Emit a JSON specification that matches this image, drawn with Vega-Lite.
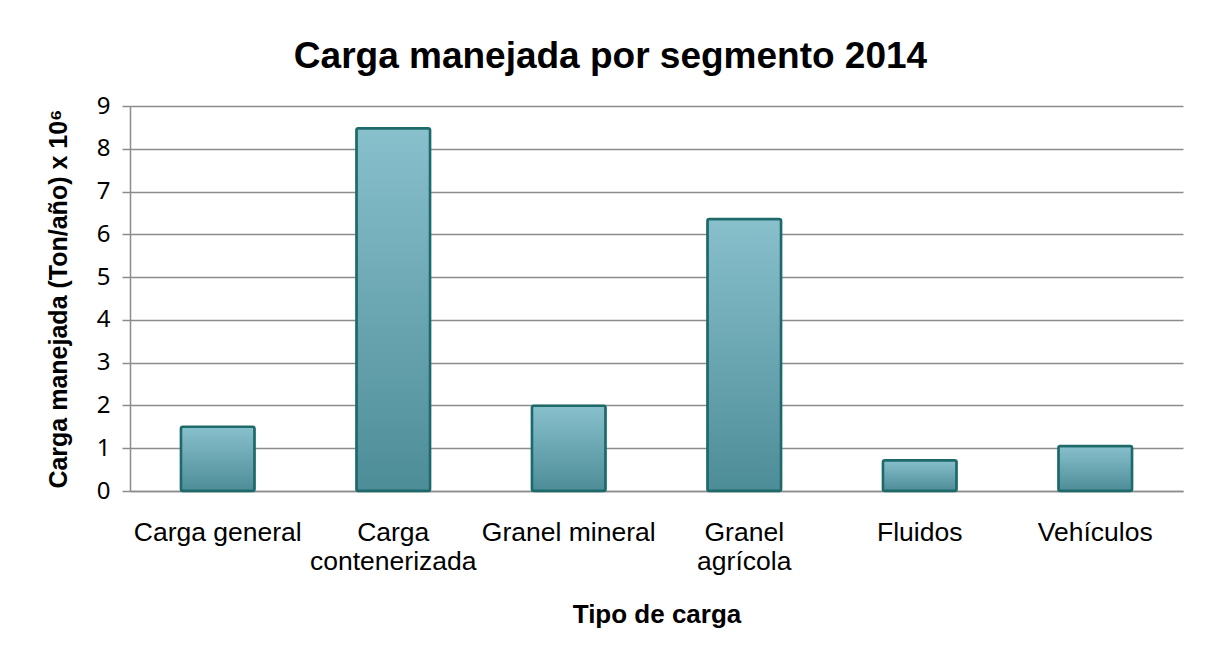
{
  "$schema": "https://vega.github.io/schema/vega-lite/v6.json",
  "width": 1053,
  "height": 385,
  "autosize": {"type": "none"},
  "padding": {"left": 130, "top": 106, "right": 28, "bottom": 165},
  "background": "white",
  "title": {
    "text": "Carga manejada por segmento 2014",
    "font": "Liberation Sans",
    "fontSize": 37,
    "fontWeight": "bold",
    "color": "#000000",
    "anchor": "middle",
    "frame": "group",
    "dx": -46,
    "baseline": "alphabetic",
    "offset": -11
  },
  "data": {
    "values": [
      {"tipo": "Carga general", "carga": 1.5},
      {"tipo": "Carga contenerizada", "carga": 8.48},
      {"tipo": "Granel mineral", "carga": 1.99},
      {"tipo": "Granel agrícola", "carga": 6.36},
      {"tipo": "Fluidos", "carga": 0.72},
      {"tipo": "Vehículos", "carga": 1.05}
    ]
  },
  "mark": {
    "type": "bar",
    "cornerRadius": 2,
    "stroke": "#1e6a6a",
    "strokeWidth": 2.5,
    "color": {
      "gradient": "linear",
      "x1": 0, "y1": 0, "x2": 0, "y2": 1,
      "stops": [
        {"offset": 0, "color": "#88c0cc"},
        {"offset": 1, "color": "#4d8d98"}
      ]
    }
  },
  "encoding": {
    "x": {
      "field": "tipo",
      "type": "nominal",
      "sort": null,
      "scale": {"paddingInner": 0.58, "paddingOuter": 0.29},
      "axis": {
        "title": "Tipo de carga",
        "titleFont": "Liberation Sans",
        "titleFontSize": 26,
        "titleFontWeight": "bold",
        "titleColor": "#000000",
        "titlePadding": 27,
        "labelFont": "Liberation Sans",
        "labelFontSize": 26.5,
        "labelColor": "#000000",
        "labelAngle": 0,
        "labelPadding": 28,
        "labelLineHeight": 29,
        "labelExpr": "datum.label == 'Carga contenerizada' || datum.label == 'Granel agrícola' ? split(datum.label, ' ') : datum.label",
        "ticks": false,
        "domainColor": "#8c8c8c",
        "domainWidth": 1.5
      }
    },
    "y": {
      "field": "carga",
      "type": "quantitative",
      "scale": {"domain": [0, 9], "nice": false},
      "axis": {
        "title": "Carga manejada (Ton/año) x 10⁶",
        "titleFont": "Liberation Sans",
        "titleFontSize": 25,
        "titleFontWeight": "bold",
        "titleColor": "#000000",
        "titlePadding": 25,
        "values": [0, 1, 2, 3, 4, 5, 6, 7, 8, 9],
        "labelFont": "Noto Sans",
        "labelFontSize": 24,
        "labelColor": "#000000",
        "labelPadding": 12,
        "tickSize": 8,
        "tickColor": "#8c8c8c",
        "tickWidth": 1.5,
        "domainColor": "#8c8c8c",
        "domainWidth": 1.5,
        "grid": true,
        "gridColor": "#8c8c8c",
        "gridWidth": 1.5
      }
    }
  },
  "config": {
    "view": {"stroke": null}
  }
}
